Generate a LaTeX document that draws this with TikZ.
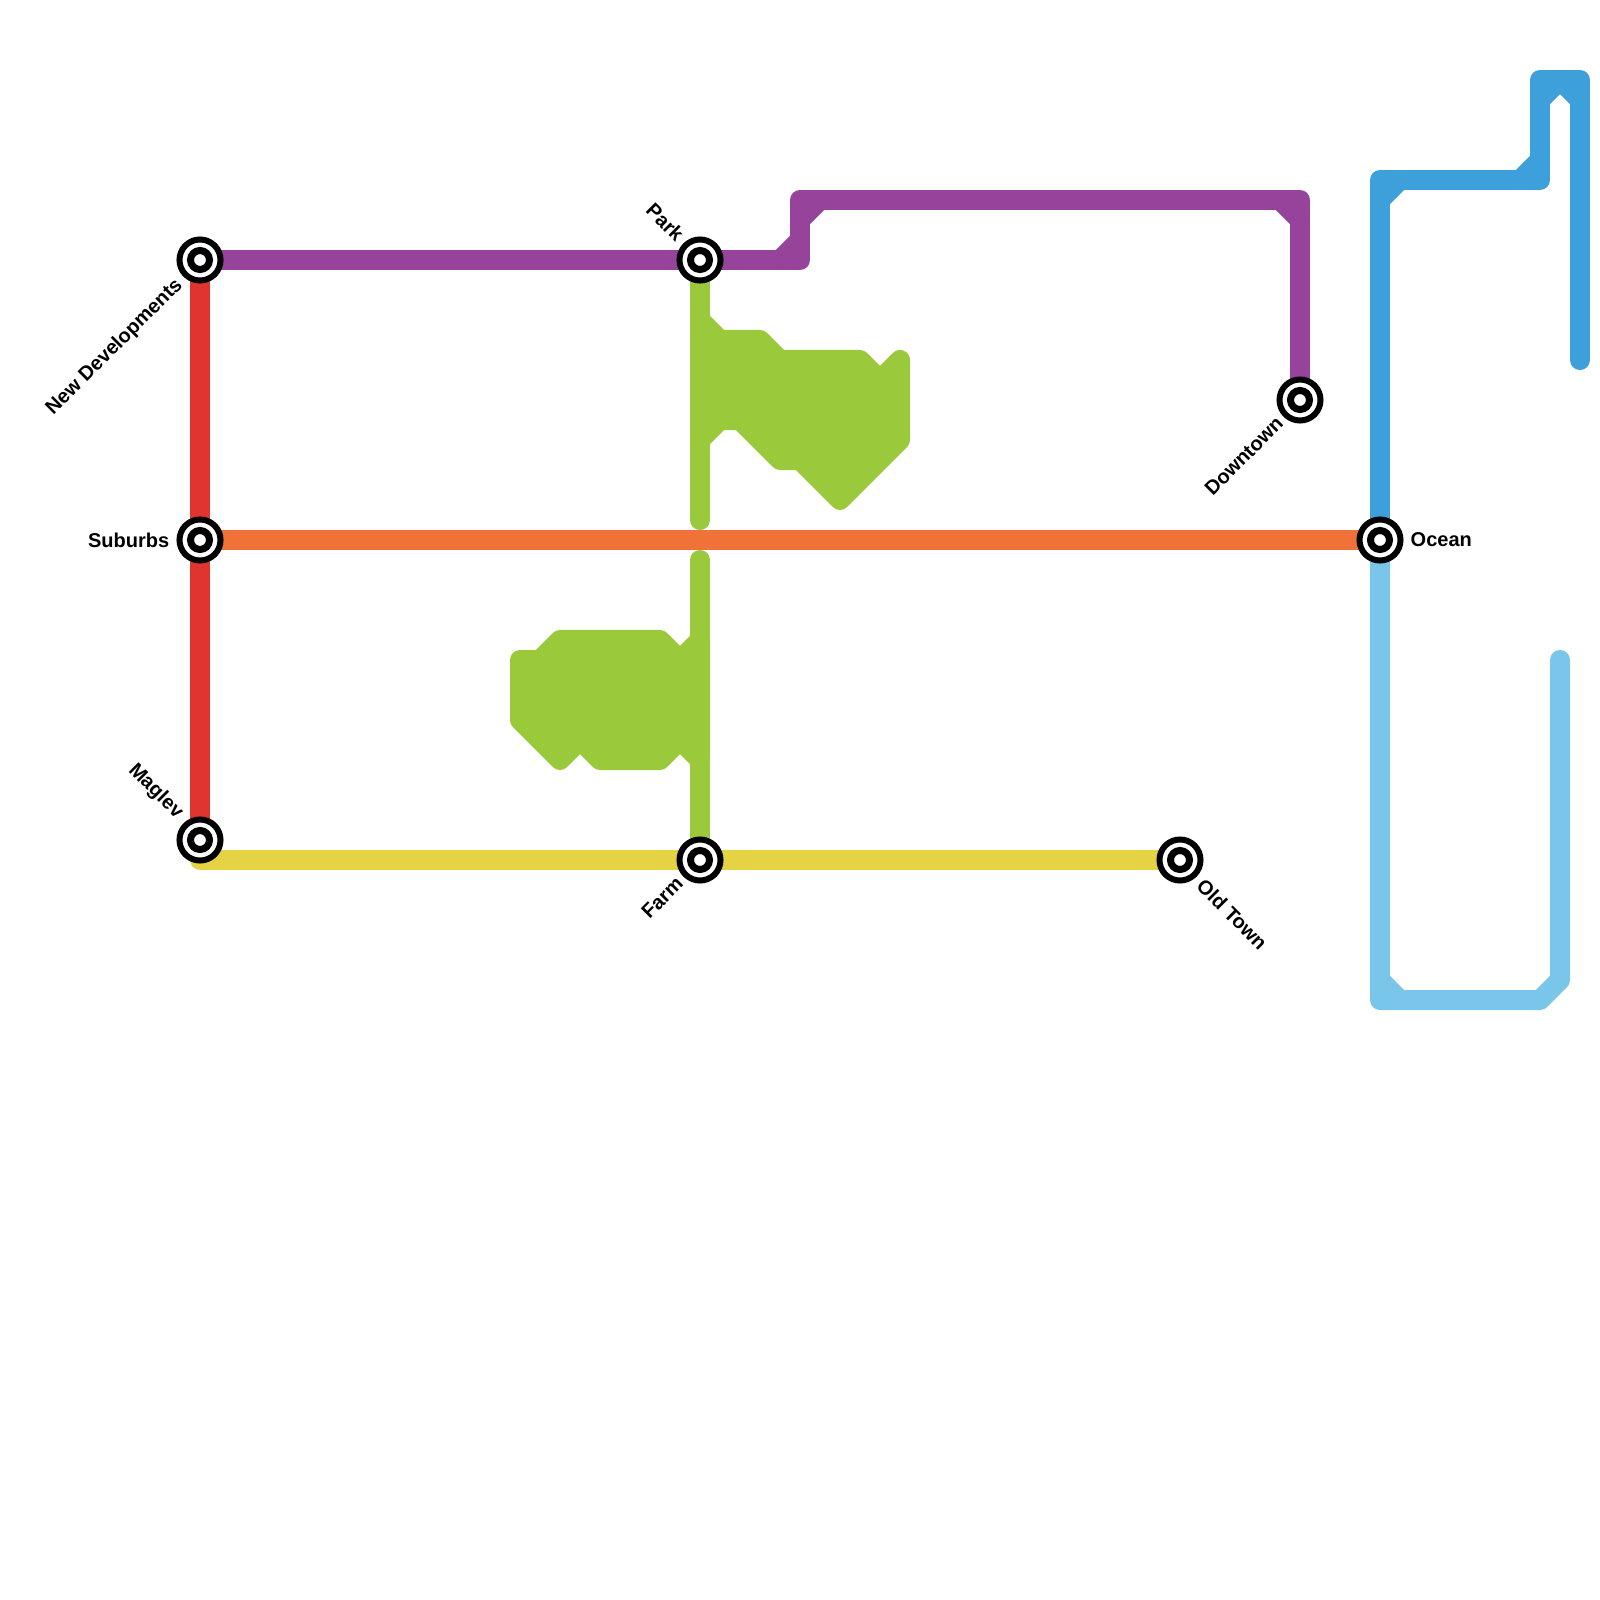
\documentclass[tikz,border=0pt]{standalone}
\usepackage{fontspec}
\setmainfont{Liberation Sans}
\usetikzlibrary{calc}
\definecolor{redline}{RGB}{224,53,47}
\definecolor{orangeline}{RGB}{240,114,57}
\definecolor{yellowline}{RGB}{229,211,68}
\definecolor{purpleline}{RGB}{149,67,155}
\definecolor{greenline}{RGB}{154,201,59}
\definecolor{blueline}{RGB}{61,160,219}
\definecolor{skyline}{RGB}{121,198,234}
\newcommand{\stationat}[1]{
  \node[station] (#1 st) at (#1) {};% Station marker on top of the lines
}

\begin{document}
\begin{tikzpicture}[x=0.01cm,y=-0.01cm,
    line/.style={line width=0.2cm,line cap=round,line join=round},
    station/.style={circle,draw=black,fill=white,line width=0.06cm,
      minimum size=0.41cm,inner sep=0pt,
      path picture={\draw[line width=0.07cm] (path picture bounding box.center) circle (0.095cm);}},
    lbl/.style={font=\bfseries\fontsize{5.69pt}{6.8pt}\selectfont,inner sep=0pt}]
    \useasboundingbox (0,0) rectangle (1600,1600);

    \coordinate (newdev) at (200,260);
    \coordinate (suburbs) at (200,540);
    \coordinate (maglev) at (200,840);
    \coordinate (park) at (700,260);
    \coordinate (farm) at (700,860);
    \coordinate (oldtown) at (1180,860);
    \coordinate (downtown) at (1300,400);
    \coordinate (ocean) at (1380,540);

    \draw[line,redline] (newdev) -- (maglev);
    \draw[line,orangeline] (suburbs) -- (ocean);
    \draw[line,yellowline] (maglev |- farm) -- (oldtown);

    \draw[line,purpleline] (newdev) -- (800,260) -- (800,200) -- (1300,200) -- (downtown);
    \draw[line,purpleline] (780,260) -- (800,240) (800,220) -- (820,200) (1280,200) -- (1300,220);

    \draw[line,greenline] (park) -- (700,520) (700,560) -- (farm);
    \filldraw[line,draw=greenline,fill=greenline] (700,320) -- (720,340) -- (760,340) -- (780,360)
      -- (860,360) -- (880,380) -- (900,360) -- (900,440) -- (840,500) -- (800,460)
      -- (780,460) -- (740,420) -- (720,420) -- (700,440) -- cycle;
    \filldraw[line,draw=greenline,fill=greenline] (700,640) -- (680,660) -- (660,640) -- (560,640)
      -- (540,660) -- (520,660) -- (520,720) -- (560,760) -- (580,740) -- (600,760)
      -- (660,760) -- (680,740) -- (700,760) -- cycle;

    \draw[line,blueline] (ocean) -- (1380,180) -- (1540,180) -- (1540,80) -- (1580,80) -- (1580,360);
    \draw[line,blueline] (1380,200) -- (1400,180) (1520,180) -- (1540,160) (1540,100) -- (1560,80) -- (1580,100);

    \draw[line,skyline] (ocean) -- (1380,1000) -- (1540,1000) -- (1560,980) -- (1560,660);
    \draw[line,skyline] (1380,980) -- (1400,1000);

    \foreach \s in {newdev,suburbs,maglev,park,farm,oldtown,downtown,ocean}{
      \stationat{\s}
    }

    \node[lbl,anchor=east,rotate=45] (newdev lbl) at ($(newdev)+(-20,22)$) {New Developments};
    \node[lbl,anchor=east] (suburbs lbl) at ($(suburbs)+(-30,0)$) {Suburbs};
    \node[lbl,anchor=east,rotate=-45] (maglev lbl) at ($(maglev)+(-20,-24)$) {Maglev};
    \node[lbl,anchor=east,rotate=-45] (park lbl) at ($(park)+(-19,-22)$) {Park};
    \node[lbl,anchor=east,rotate=45] (farm lbl) at ($(farm)+(-20,20)$) {Farm};
    \node[lbl,anchor=west,rotate=-45] (oldtown lbl) at ($(oldtown)+(20,22)$) {Old Town};
    \node[lbl,anchor=east,rotate=45] (downtown lbl) at ($(downtown)+(-20,20)$) {Downtown};
    \node[lbl,anchor=west] (ocean lbl) at ($(ocean)+(30,0)$) {Ocean};
  \end{tikzpicture}
\end{document}
